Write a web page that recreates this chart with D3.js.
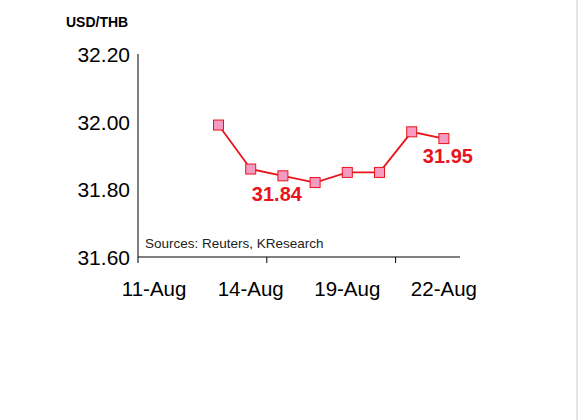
<!DOCTYPE html>
<html><head><meta charset="utf-8">
<script src="https://cdn.jsdelivr.net/npm/d3@7"></script>
<style>body{margin:0;background:#fff}svg{display:block;font-family:Arial,"Liberation Sans",sans-serif}</style>
</head><body><svg id="c" width="583" height="420"></svg>
<script>
const categories=["11-Aug","12-Aug","13-Aug","14-Aug","15-Aug","18-Aug","19-Aug","20-Aug","21-Aug","22-Aug"];
const values=[null,null,31.99,31.86,31.84,31.82,31.85,31.85,31.97,31.95];
const xTickLabels=["11-Aug","14-Aug","19-Aug","22-Aug"];
const yTicks=[31.60,31.80,32.00,32.20];
const annotations=[{cat:"15-Aug",text:"31.84",dx:-6,dy:25},{cat:"22-Aug",text:"31.95",dx:4,dy:24}];

const svg=d3.select("#c");
const x=d3.scaleBand().domain(categories).range([138,460]);
const y=d3.scaleLinear().domain([31.60,32.20]).range([257,54]);
const red="#e8141c";
svg.append("line").attr("x1",577).attr("x2",577).attr("y1",0).attr("y2",420).attr("stroke","#ccc");
svg.append("line").attr("x1",138).attr("x2",138).attr("y1",y(32.20)).attr("y2",y(31.60)).attr("stroke","#000");
yTicks.forEach(t=>{
  svg.append("text").attr("x",130).attr("y",y(t)+8).attr("text-anchor","end").attr("font-size",21).text(t.toFixed(2));
});
svg.append("line").attr("x1",138).attr("x2",460).attr("y1",y(31.60)).attr("y2",y(31.60)).attr("stroke","#000");
categories.forEach((c,i)=>{ if(i%4===0){ const xx=x(c); svg.append("line").attr("x1",xx).attr("x2",xx).attr("y1",257).attr("y2",263).attr("stroke","#000");}});
xTickLabels.forEach(c=>svg.append("text").attr("x",x(c)+x.bandwidth()/2).attr("y",296).attr("text-anchor","middle").attr("font-size",20.5).text(c));
svg.append("text").attr("x",66).attr("y",27).attr("font-size",14).attr("font-weight","bold").text("USD/THB");
svg.append("text").attr("x",145).attr("y",248).attr("font-size",13.5).attr("fill","#222").text("Sources: Reuters, KResearch");
const pts=categories.map((c,i)=>({c,v:values[i]})).filter(d=>d.v!=null);
const cx=d=>x(d.c)+x.bandwidth()/2;
svg.append("path").datum(pts).attr("fill","none").attr("stroke",red).attr("stroke-width",1.8)
  .attr("d",d3.line().x(cx).y(d=>y(d.v)));
svg.selectAll("rect.m").data(pts).enter().append("rect").attr("x",d=>cx(d)-5).attr("y",d=>y(d.v)-5)
  .attr("width",10).attr("height",10).attr("fill","#f59ac0").attr("stroke",red).attr("stroke-width",1);
annotations.forEach(a=>{const i=categories.indexOf(a.cat);
  svg.append("text").attr("x",cx({c:a.cat})+a.dx).attr("y",y(values[i])+a.dy).attr("text-anchor","middle")
   .attr("font-size",20).attr("font-weight","bold").attr("fill",red).text(a.text);});
</script></body></html>
